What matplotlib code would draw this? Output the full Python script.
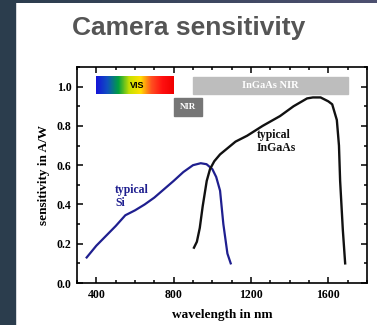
import numpy as np
import matplotlib.pyplot as plt
from matplotlib.colors import LinearSegmentedColormap
from matplotlib.patches import Rectangle
from matplotlib.ticker import MultipleLocator

# Silicon curve (nm, A/W)
si_nm = [350, 400, 450, 500, 550, 600, 650, 700, 800, 850, 900, 940, 970, 1000, 1020, 1040, 1057, 1078, 1095]
si_val = [0.13, 0.19, 0.24, 0.29, 0.345, 0.37, 0.40, 0.435, 0.52, 0.565, 0.60, 0.61, 0.605, 0.58, 0.54, 0.47, 0.30, 0.15, 0.10]

# InGaAs curve (nm, A/W)
ingaas_nm = [905, 920, 935, 950, 971, 988, 1010, 1040, 1120, 1180, 1260, 1350, 1420, 1490, 1520, 1560, 1600, 1620, 1644, 1655, 1661, 1675, 1687]
ingaas_val = [0.18, 0.21, 0.28, 0.39, 0.52, 0.58, 0.62, 0.655, 0.72, 0.75, 0.80, 0.85, 0.90, 0.94, 0.945, 0.945, 0.925, 0.91, 0.83, 0.70, 0.52, 0.27, 0.10]

# spectral bands: (start nm, end nm, bottom, top)
vis_band = (400, 800, 0.96, 1.05)
nir_band = (800, 945, 0.85, 0.94)
ingaas_band = (900, 1700, 0.96, 1.05)

x_ticks = [400, 800, 1200, 1600]
y_ticks = [0.0, 0.2, 0.4, 0.6, 0.8, 1.0]

navy = '#1f1f8f'
serif = ['Liberation Serif', 'DejaVu Serif']

fig = plt.figure(figsize=(3.77, 3.25), dpi=100)

# dark frame on the left and along the top
bg = fig.add_axes([0, 0, 1, 1], zorder=-10)
bg.set_axis_off()
bg.add_patch(Rectangle((0, 0), 15/377, 1, color='#2b3d4d', transform=bg.transAxes))
grad = np.linspace(0, 1, 100).reshape(1, -1)
bg.imshow(grad, extent=[0, 1, 1 - 3.5/325, 1], aspect='auto',
          cmap=LinearSegmentedColormap.from_list('top', ['#2b3d4d', '#4d5070']))
bg.set_xlim(0, 1)
bg.set_ylim(0, 1)

fig.text(0.5, 1 - 28/325, 'Camera sensitivity', ha='center', va='center',
         fontsize=19, fontweight='bold', color='#555555', family='Liberation Sans')

ax = fig.add_axes([77/377, 1 - 283/325, 290/377, 216/325])
ax.plot(si_nm, si_val, color=navy, lw=1.6)
ax.plot(ingaas_nm, ingaas_val, color='#111111', lw=1.7)

# VIS gradient bar
vis_cmap = LinearSegmentedColormap.from_list(
    'vis', ['#1515d8', '#1050c0', '#00a040', '#c8e000', '#ffe000', '#ff5020', '#ff1010', '#f00000'])
ax.imshow(grad, extent=[vis_band[0], vis_band[1], vis_band[2], vis_band[3]],
          aspect='auto', cmap=vis_cmap, zorder=2)
ax.text((vis_band[0] + vis_band[1]) / 2 + 10, 1.005, 'VIS', ha='center', va='center',
        fontsize=6.5, fontweight='bold', family='Liberation Sans', color='black', zorder=3)

ax.add_patch(Rectangle((nir_band[0], nir_band[2]), nir_band[1] - nir_band[0],
                       nir_band[3] - nir_band[2], color='#767676', zorder=2))
ax.text((nir_band[0] + nir_band[1]) / 2, (nir_band[2] + nir_band[3]) / 2, 'NIR',
        ha='center', va='center', fontsize=6.5, fontweight='bold', family=serif, color='white')

ax.add_patch(Rectangle((ingaas_band[0], ingaas_band[2]), ingaas_band[1] - ingaas_band[0],
                       ingaas_band[3] - ingaas_band[2], color='#bdbdbd', zorder=2))
ax.text((ingaas_band[0] + ingaas_band[1]) / 2, 1.005, 'InGaAs NIR', ha='center', va='center',
        fontsize=7.5, fontweight='bold', family=serif, color='white', zorder=3)

ax.text(497, 0.44, 'typical\nSi', color=navy, fontsize=8.5, fontweight='bold',
        family=serif, ha='left', va='center', linespacing=1.1)
ax.text(1230, 0.72, 'typical\nInGaAs', color='#111111', fontsize=8.5, fontweight='bold',
        family=serif, ha='left', va='center', linespacing=1.1)

ax.set_xlim(300, 1800)
ax.set_ylim(0, 1.1)
ax.set_xticks(x_ticks)
ax.set_yticks(y_ticks)
ax.set_yticklabels([f'{v:.1f}' for v in y_ticks])
ax.xaxis.set_minor_locator(MultipleLocator(100))
ax.yaxis.set_minor_locator(MultipleLocator(0.1))
ax.tick_params(which='both', direction='in', top=True, right=True, width=1.1,
               labelsize=8.5, pad=4)
ax.tick_params(which='major', length=4.5)
ax.tick_params(which='minor', length=2.5)
for lab in ax.get_xticklabels() + ax.get_yticklabels():
    lab.set_family(serif)
    lab.set_fontweight('bold')
for sp in ax.spines.values():
    sp.set_linewidth(1.2)

ax.set_xlabel('wavelength in nm', fontsize=9.5, fontweight='bold', family=serif, labelpad=6)
ax.set_ylabel('sensitivity in A/W', fontsize=9.5, fontweight='bold', family=serif, labelpad=5)

fig.savefig('out.png', dpi=100)
